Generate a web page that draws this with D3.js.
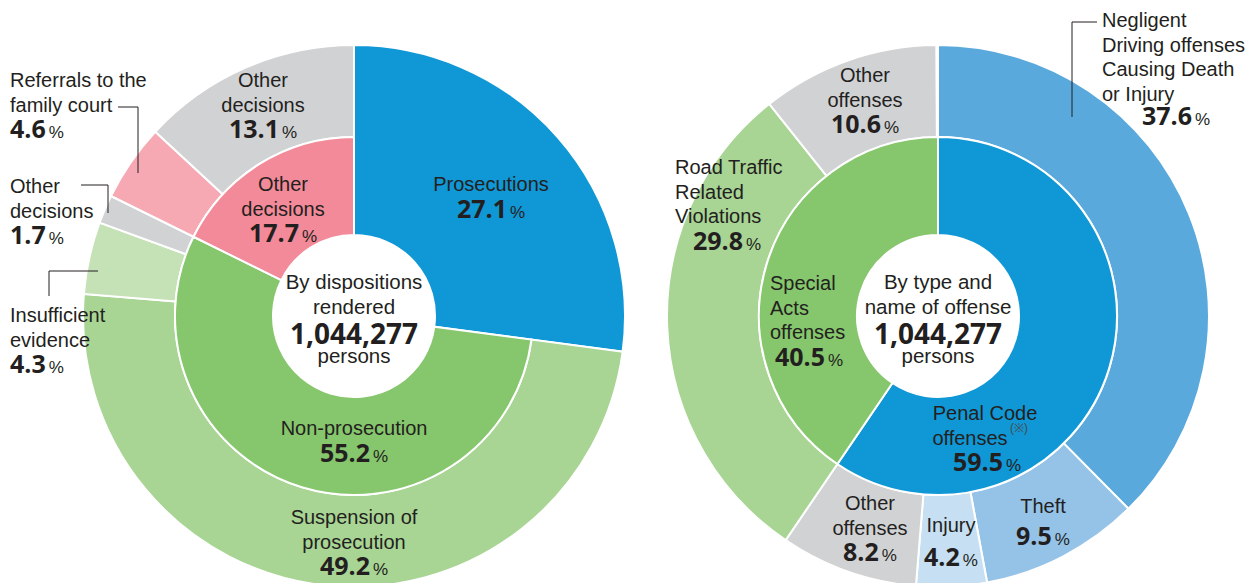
<!DOCTYPE html>
<html>
<head>
<meta charset="utf-8">
<script src="https://cdn.jsdelivr.net/npm/d3@7"></script>
<style>
  html, body { margin: 0; padding: 0; background: #fff; }
  .lbl { font-family: "Liberation Sans", Arial, sans-serif; font-size: 20px; fill: #231f20; }
  .num { font-family: "Open Sans", "Noto Sans", sans-serif; font-weight: 700; font-size: 25px; fill: #231f20; }
  .pct { font-family: "Liberation Sans", Arial, sans-serif; font-weight: 400; font-size: 17px; fill: #231f20; }
</style>
</head>
<body>
<div class="canvas"></div>
<script>
// ---- data ----
const total = 1044277;

const leftInnerNames = ['Prosecutions', 'Non-prosecution', 'Other decisions'];
const leftInnerValues = [27.1, 55.2, 17.7];
const leftOuterNames = ['Prosecutions', 'Suspension of prosecution', 'Insufficient evidence',
    'Other decisions', 'Referrals to the family court', 'Other decisions'];
const leftOuterValues = [27.1, 49.2, 4.3, 1.7, 4.6, 13.1];

const rightInnerNames = ['Penal Code offenses', 'Special Acts offenses'];
const rightInnerValues = [59.5, 40.5];
const rightOuterNames = ['Negligent Driving offenses Causing Death or Injury', 'Theft', 'Injury',
    'Other offenses', 'Road Traffic Related Violations', 'Other offenses'];
const rightOuterValues = [37.6, 9.5, 4.2, 8.2, 29.8, 10.6];

// ---- styles ----
const leftInnerColors = ['#1097d6', '#86c66c', '#f38a99'];
const leftOuterColors = ['#1097d6', '#a8d494', '#c5e1b6', '#d1d2d4', '#f6a9b3', '#d1d2d4'];
const rightInnerColors = ['#1097d6', '#86c66c'];
const rightOuterColors = ['#5aa9dd', '#95c3e8', '#c6dff2', '#d1d2d4', '#a8d494', '#d1d2d4'];

const width = 1260, height = 583;
const rHole = 81, rMid = 179, rOuter = 271;

const svg = d3.select('.canvas')
    .append('svg')
    .attr('width', width)
    .attr('height', height);

function drawDonut(cx, cy, innerValues, innerColors, outerValues, outerColors, spanFirst) {
    const g = svg.append('g').attr('transform', `translate(${cx},${cy})`);

    const pieFor = vals => d3.pie().sort(null).value(d => d)
        .endAngle(2 * Math.PI * d3.sum(vals) / 100);

    const outerArcs = pieFor(outerValues)(outerValues);
    const innerArcs = pieFor(innerValues)(innerValues);

    // first outer slice may run all the way down to the hole (left chart)
    const arcOuter = d3.arc().outerRadius(rOuter)
        .innerRadius((d, i) => (spanFirst && i === 0) ? rHole : rMid);
    const arcInner = d3.arc().innerRadius(rHole).outerRadius(rMid);

    g.selectAll('path.outer')
        .data(outerArcs)
        .enter()
        .append('path')
        .attr('class', 'outer')
        .attr('d', (d, i) => arcOuter(d, i))
        .attr('fill', (d, i) => outerColors[i])
        .attr('stroke', '#fff')
        .attr('stroke-width', 2);

    g.selectAll('path.inner')
        .data(innerArcs.filter((d, i) => !(spanFirst && i === 0)))
        .enter()
        .append('path')
        .attr('class', 'inner')
        .attr('d', arcInner)
        .attr('fill', d => innerColors[d.index])
        .attr('stroke', '#fff')
        .attr('stroke-width', 2);

    return g;
}

function label(g, lines, value, x, y, opts = {}) {
    const anchor = opts.anchor || 'middle';
    const lh = opts.lh || 24.5;
    const t = g.append('text').attr('class', 'lbl').attr('text-anchor', anchor);
    lines.forEach((ln, i) => {
        t.append('tspan').attr('x', x).attr('y', y + 7 + i * lh).text(ln);
    });
    if (value != null) {
        const nx = opts.nx != null ? opts.nx : x;
        const ny = y + lines.length * lh + (opts.ndy != null ? opts.ndy : 2) + 7;
        const n = g.append('text').attr('text-anchor', opts.nanchor || anchor)
            .attr('x', nx).attr('y', ny);
        n.append('tspan').attr('class', 'num').text(d3.format('.1f')(value));
        n.append('tspan').attr('class', 'pct').attr('dx', 3).text('%');
    }
    return t;
}

function centre(g, lines) {
    label(g, lines, null, 0, -34, { lh: 25 }).style('font-size', '20.5px');
    g.append('text').attr('class', 'num').attr('text-anchor', 'middle')
        .attr('x', 0).attr('y', 28).style('font-size', '28px')
        .text(d3.format(',')(total));
    g.append('text').attr('class', 'lbl').attr('text-anchor', 'middle')
        .attr('x', 0).attr('y', 47).style('font-size', '20.5px').text('persons');
}

function leader(g, pts) {
    g.append('path')
        .attr('d', d3.line()(pts))
        .attr('fill', 'none')
        .attr('stroke', '#231f20')
        .attr('stroke-width', 1);
}

// ---- left chart ----
const L = drawDonut(354, 316, leftInnerValues, leftInnerColors, leftOuterValues, leftOuterColors, true);

label(L, ['Prosecutions'], leftInnerValues[0], 137, -132);
label(L, ['Other', 'decisions'], leftOuterValues[5], -91, -236);
label(L, ['Other', 'decisions'], leftInnerValues[2], -71, -132);
label(L, ['Non-prosecution'], leftInnerValues[1], 0, 112);
label(L, ['Suspension of', 'prosecution'], leftOuterValues[1], 0, 201);
centre(L, ['By dispositions', 'rendered']);

label(L, ['Referrals to the', 'family court'], leftOuterValues[4], -344, -236, { anchor: 'start' });
leader(L, [[-236, -209], [-216, -209], [-216, -143]]);
label(L, ['Other', 'decisions'], leftOuterValues[3], -344, -130, { anchor: 'start' });
leader(L, [[-273, -131], [-246, -131], [-246, -103]]);
label(L, ['Insufficient', 'evidence'], leftOuterValues[2], -344, -1, { anchor: 'start' });
leader(L, [[-256, -45], [-305, -45], [-305, -20]]);

// ---- right chart ----
const R = drawDonut(938, 316, rightInnerValues, rightInnerColors, rightOuterValues, rightOuterColors, false);

label(R, ['Other', 'offenses'], rightOuterValues[5], -73, -241);
label(R, ['Road Traffic', 'Related', 'Violations'], rightOuterValues[4], -263, -149,
    { anchor: 'start', nx: -245 });
label(R, ['Special', 'Acts', 'offenses'], rightInnerValues[1], -168, -33,
    { anchor: 'start', nx: -163 });
centre(R, ['By type and', 'name of offense']);

const pc = label(R, ['Penal Code', 'offenses'], null, 47, 97);
pc.selectAll('tspan').filter((d, i) => i === 1).attr('x', 32);
R.append('text').attr('class', 'lbl').attr('x', 72).attr('y', 116)
    .style('font-size', '12px').style('fill', '#4a4a4a').text('(※)');
label(R, [], rightInnerValues[0], 49, 146);

label(R, ['Other', 'offenses'], rightOuterValues[3], -68, 187);
label(R, ['Injury'], rightOuterValues[2], 13, 209, { ndy: 9 });
label(R, ['Theft'], rightOuterValues[1], 105, 190, { ndy: 7 });
label(R, ['Negligent', 'Driving offenses', 'Causing Death', 'or Injury'], rightOuterValues[0], 164, -296,
    { anchor: 'start', nx: 238, nanchor: 'middle', ndy: 0 });
leader(R, [[159, -294], [134, -294], [134, -199]]);
</script>
</body>
</html>
